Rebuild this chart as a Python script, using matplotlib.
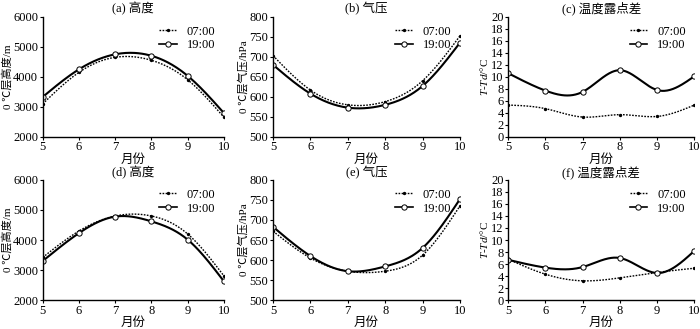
import numpy as np
import matplotlib
matplotlib.use("Agg")
import matplotlib.pyplot as plt

plt.rcParams["font.family"] = ["Liberation Serif", "Noto Sans CJK SC", "DejaVu Sans"]
plt.rcParams["mathtext.fontset"] = "custom"
plt.rcParams["mathtext.it"] = "Liberation Serif:italic"
plt.rcParams["mathtext.rm"] = "Liberation Serif"

months = [5, 6, 7, 8, 9, 10]
labels = ["07:00", "19:00"]

height_a_07 = [3100, 4150, 4650, 4550, 3900, 2650]
height_a_19 = [3330, 4250, 4750, 4700, 4030, 2790]
press_b_07 = [703, 617, 580, 588, 640, 752]
press_b_19 = [680, 608, 573, 580, 627, 735]
tdd_c_07 = [5.3, 4.7, 3.3, 3.7, 3.4, 5.3]
tdd_c_19 = [10.6, 7.7, 7.5, 11.1, 7.8, 10.1]
height_d_07 = [3420, 4300, 4800, 4800, 4200, 2800]
height_d_19 = [3300, 4230, 4780, 4620, 4010, 2620]
press_e_07 = [672, 605, 572, 572, 612, 735]
press_e_19 = [683, 610, 572, 584, 630, 752]
tdd_f_07 = [6.8, 4.3, 3.2, 3.7, 4.6, 5.3]
tdd_f_19 = [6.7, 5.4, 5.5, 7.0, 4.5, 8.2]


def spline(x, y, n=200):
    # natural cubic spline, only for drawing a smooth line through the points
    x = np.asarray(x, float)
    y = np.asarray(y, float)
    k = len(x)
    h = np.diff(x)
    A = np.zeros((k, k))
    b = np.zeros(k)
    A[0, 0] = A[-1, -1] = 1
    for i in range(1, k - 1):
        A[i, i - 1] = h[i - 1]
        A[i, i] = 2 * (h[i - 1] + h[i])
        A[i, i + 1] = h[i]
        b[i] = 6 * ((y[i + 1] - y[i]) / h[i] - (y[i] - y[i - 1]) / h[i - 1])
    M = np.linalg.solve(A, b)
    xs = np.linspace(x[0], x[-1], n)
    idx = np.clip(np.searchsorted(x, xs) - 1, 0, k - 2)
    x0, x1 = x[idx], x[idx + 1]
    hh = x1 - x0
    t0 = x1 - xs
    t1 = xs - x0
    ys = (M[idx] * t0 ** 3 / (6 * hh) + M[idx + 1] * t1 ** 3 / (6 * hh)
          + (y[idx] / hh - M[idx] * hh / 6) * t0
          + (y[idx + 1] / hh - M[idx + 1] * hh / 6) * t1)
    return xs, ys


tdd_lab = "$T$-$Td$/°C"
panels = [
    ("(a) 高度", height_a_07, height_a_19, (2000, 6000), np.arange(2000, 6001, 1000), "0 ℃层高度/m"),
    ("(b) 气压", press_b_07, press_b_19, (500, 800), np.arange(500, 801, 50), "0 ℃层气压/hPa"),
    ("(c) 温度露点差", tdd_c_07, tdd_c_19, (0, 20), np.arange(0, 21, 2), tdd_lab),
    ("(d) 高度", height_d_07, height_d_19, (2000, 6000), np.arange(2000, 6001, 1000), "0 ℃层高度/m"),
    ("(e) 气压", press_e_07, press_e_19, (500, 800), np.arange(500, 801, 50), "0 ℃层气压/hPa"),
    ("(f) 温度露点差", tdd_f_07, tdd_f_19, (0, 20), np.arange(0, 21, 2), tdd_lab),
]

lefts = [0.061, 0.39, 0.726]
widths = [0.259, 0.267, 0.266]
bottoms = [0.584, 0.088]
h = 0.365
dot = (0, (1.2, 1.0))

fig = plt.figure(figsize=(7, 3.29), dpi=100)
for i, (title, s07, s19, ylim, yt, ylab) in enumerate(panels):
    r, c = divmod(i, 3)
    ax = fig.add_axes([lefts[c], bottoms[r], widths[c], h])
    xs, ys = spline(months, s07)
    ax.plot(xs, ys, color="black", linestyle=dot, linewidth=1.0)
    ax.plot(months, s07, linestyle="none", marker="o", markersize=1.4, color="black")
    xs, ys = spline(months, s19)
    ax.plot(xs, ys, color="black", linewidth=1.5)
    ax.plot(months, s19, linestyle="none", marker="o", markersize=3.8,
            markerfacecolor="white", markeredgecolor="black", markeredgewidth=0.7)
    # legend proxies
    ax.plot([], [], color="black", linestyle=dot, linewidth=1.0,
            marker="o", markersize=1.4, markevery=[1], label=labels[0])
    ax.plot([], [], color="black", linewidth=1.2, marker="o", markersize=3.8,
            markerfacecolor="white", markeredgewidth=0.7, label=labels[1])
    ax.legend(loc="upper right", frameon=False, fontsize=9, handlelength=1.4,
              handletextpad=0.8, labelspacing=0.15, borderaxespad=0.3)
    ax.set_xlim(5, 10)
    ax.set_ylim(*ylim)
    ax.set_xticks(months)
    ax.set_yticks(yt)
    ax.tick_params(labelsize=9, length=2.5, width=0.8, pad=0.8)
    for s in ("top", "right"):
        ax.spines[s].set_visible(False)
    for s in ("left", "bottom"):
        ax.spines[s].set_linewidth(1.0)
    ax.set_title(title, fontsize=9, pad=3)
    ax.set_xlabel("月份", fontsize=9, labelpad=0)
    ax.set_ylabel(ylab, fontsize=8, labelpad=0.5)

fig.savefig("out.png", dpi=100)
